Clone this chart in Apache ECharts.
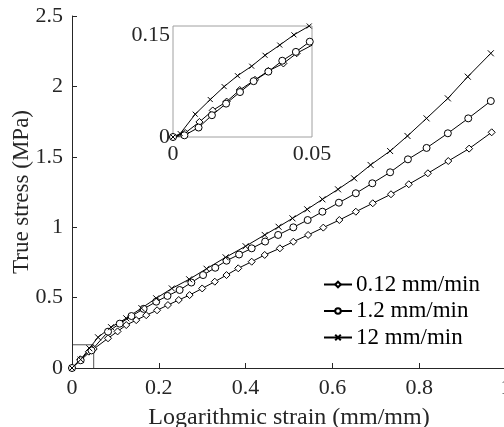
<!DOCTYPE html>
<html>
<head>
<meta charset="utf-8">
<script src="https://cdn.jsdelivr.net/npm/echarts@6/dist/echarts.min.js"></script>
<style>html,body{margin:0;padding:0;background:#fff;}#c{width:504px;height:427px;}</style>
</head>
<body>
<div id="c"></div>
<script>
// ---- data ----
var seriesNames = ['0.12 mm/min', '1.2 mm/min', '12 mm/min'];

var strainA = [0, 0.019, 0.039, 0.05, 0.083, 0.105, 0.125, 0.148, 0.171, 0.196, 0.221, 0.246, 0.271, 0.30, 0.329, 0.356, 0.383, 0.414, 0.444, 0.479, 0.510, 0.544, 0.579, 0.616, 0.654, 0.693, 0.735, 0.776, 0.820, 0.867, 0.915, 0.967];
var stressA = [0, 0.062, 0.116, 0.135, 0.211, 0.26, 0.305, 0.34, 0.375, 0.41, 0.447, 0.483, 0.518, 0.565, 0.613, 0.66, 0.708, 0.755, 0.803, 0.850, 0.897, 0.945, 0.997, 1.051, 1.110, 1.170, 1.234, 1.305, 1.383, 1.470, 1.558, 1.674];

var strainB = [0, 0.02, 0.045, 0.083, 0.11, 0.137, 0.165, 0.194, 0.22, 0.248, 0.275, 0.302, 0.33, 0.356, 0.385, 0.414, 0.445, 0.475, 0.510, 0.543, 0.577, 0.615, 0.654, 0.692, 0.733, 0.774, 0.817, 0.866, 0.913, 0.965];
var stressB = [0, 0.055, 0.125, 0.258, 0.315, 0.369, 0.42, 0.471, 0.512, 0.554, 0.607, 0.660, 0.712, 0.762, 0.806, 0.850, 0.898, 0.945, 0.999, 1.051, 1.110, 1.174, 1.241, 1.312, 1.390, 1.482, 1.563, 1.667, 1.773, 1.896];

var strainC = [0, 0.02, 0.04, 0.06, 0.09, 0.125, 0.16, 0.194, 0.23, 0.270, 0.31, 0.354, 0.40, 0.444, 0.476, 0.508, 0.542, 0.577, 0.613, 0.650, 0.688, 0.733, 0.773, 0.817, 0.866, 0.912, 0.965];
var stressC = [0, 0.06, 0.14, 0.218, 0.29, 0.353, 0.425, 0.495, 0.565, 0.630, 0.705, 0.786, 0.865, 0.945, 1.003, 1.063, 1.127, 1.198, 1.269, 1.347, 1.442, 1.541, 1.648, 1.773, 1.915, 2.069, 2.235];

// inset (zoomed) data
var inStrainA = [0, 0.0044, 0.0095, 0.0143, 0.0193, 0.024, 0.0295, 0.0343, 0.0397, 0.0445, 0.0501];
var inStressA = [0, 0.0059, 0.0221, 0.039, 0.052, 0.069, 0.084, 0.097, 0.108, 0.123, 0.135];
var inStrainB = [0, 0.0041, 0.0092, 0.014, 0.0191, 0.0241, 0.029, 0.0343, 0.0393, 0.0442, 0.0492];
var inStressB = [0, 0.0025, 0.0139, 0.032, 0.049, 0.066, 0.082, 0.096, 0.112, 0.125, 0.140];
var inStrainC = [0, 0.0026, 0.008, 0.0134, 0.0184, 0.0232, 0.0283, 0.0331, 0.0384, 0.0435, 0.049];
var inStressC = [0, 0.005, 0.0335, 0.055, 0.074, 0.090, 0.104, 0.120, 0.135, 0.150, 0.163];

// zoom box drawn on main plot (strain, stress)
var boxStrain = [0, 0.05, 0.05];
var boxStress = [0.165, 0.165, 0];

var xTicks = [0, 0.2, 0.4, 0.6, 0.8, 1];
var yTicks = [0, 0.5, 1, 1.5, 2, 2.5];

// ---- chart ----
function zip(a, b) { return a.map(function (v, i) { return [v, b[i]]; }); }
var FONT = '"Liberation Serif", "Times New Roman", serif';
var INK = '#262626';
var crossPath = 'path://M0,0L10,10M10,0L0,10';
var symbols = ['diamond', 'circle', crossPath];

function mk(name, data, idx, xi, yi, sz, z) {
  return {
    name: name, type: 'line', data: data, xAxisIndex: xi, yAxisIndex: yi,
    symbol: symbols[idx], symbolSize: sz, showSymbol: true,
    lineStyle: { color: '#000', width: 1 },
    itemStyle: { color: idx === 2 ? '#000' : '#fff', borderColor: '#000', borderWidth: 1 },
    animation: false, z: z
  };
}

var chart = echarts.init(document.getElementById('c'), null, { renderer: 'canvas' });
chart.setOption({
  backgroundColor: '#fff',
  animation: false,
  textStyle: { fontFamily: FONT },
  legend: {
    orient: 'vertical', left: 318, top: 268,
    itemWidth: 28, itemHeight: 7, itemGap: 3.5,
    data: seriesNames,
    textStyle: { fontFamily: FONT, fontSize: 23, color: '#000', lineHeight: 22, padding: [0, 0, 0, -1] }
  },
  grid: [
    { left: 72, top: 16, width: 434, height: 352, containLabel: false, outerBoundsMode: 'none' },
    { left: 173, top: 26, width: 139, height: 111, show: true, borderColor: '#a0a0a0', borderWidth: 1, backgroundColor: '#fff', z: 5, containLabel: false, outerBoundsMode: 'none' }
  ],
  xAxis: [
    {
      type: 'value', gridIndex: 0, min: xTicks[0], max: xTicks[xTicks.length - 1], interval: 0.2,
      name: 'Logarithmic strain (mm/mm)', nameLocation: 'middle', nameGap: 38,
      nameTextStyle: { fontFamily: FONT, fontSize: 24, color: INK },
      axisLine: { lineStyle: { color: INK, width: 1 } },
      axisTick: { show: true, inside: true, length: 5, lineStyle: { color: INK } },
      axisLabel: { fontFamily: FONT, fontSize: 22, color: INK, margin: 9, showMaxLabel: true },
      splitLine: { show: false }
    },
    {
      type: 'value', gridIndex: 1, min: 0, max: 0.05, interval: 0.05,
      axisLine: { show: false }, axisTick: { show: false },
      axisLabel: { fontFamily: FONT, fontSize: 22, color: INK, margin: 6 },
      splitLine: { show: false }, z: 6
    }
  ],
  yAxis: [
    {
      type: 'value', gridIndex: 0, min: yTicks[0], max: yTicks[yTicks.length - 1], interval: 0.5,
      name: 'True stress (MPa)', nameLocation: 'middle', nameGap: 39, nameMoveOverlap: false,
      nameTextStyle: { fontFamily: FONT, fontSize: 23, color: INK },
      axisLine: { show: true, lineStyle: { color: INK, width: 1 } },
      axisTick: { show: true, inside: true, length: 5, lineStyle: { color: INK } },
      axisLabel: { fontFamily: FONT, fontSize: 22, color: INK, margin: 9 },
      splitLine: { show: false }
    },
    {
      type: 'value', gridIndex: 1, min: 0, max: 0.163, interval: 0.15,
      axisLine: { show: false }, axisTick: { show: false },
      axisLabel: { fontFamily: FONT, fontSize: 22, color: INK, margin: 3, showMaxLabel: false },
      splitLine: { show: false }, z: 6
    }
  ],
  series: [
    {
      name: 'box', type: 'line', data: zip(boxStrain, boxStress), xAxisIndex: 0, yAxisIndex: 0,
      showSymbol: false, symbol: 'none', lineStyle: { color: INK, width: 0.8 }, z: 1, silent: true
    },
    mk(seriesNames[0], zip(strainA, stressA), 0, 0, 0, 7, 3),
    mk(seriesNames[1], zip(strainB, stressB), 1, 0, 0, 7, 3),
    mk(seriesNames[2], zip(strainC, stressC), 2, 0, 0, 6, 3),
    mk(seriesNames[0], zip(inStrainA, inStressA), 0, 1, 1, 7, 10),
    mk(seriesNames[1], zip(inStrainB, inStressB), 1, 1, 1, 7, 10),
    mk(seriesNames[2], zip(inStrainC, inStressC), 2, 1, 1, 5, 10)
  ]
});
</script>
</body>
</html>
